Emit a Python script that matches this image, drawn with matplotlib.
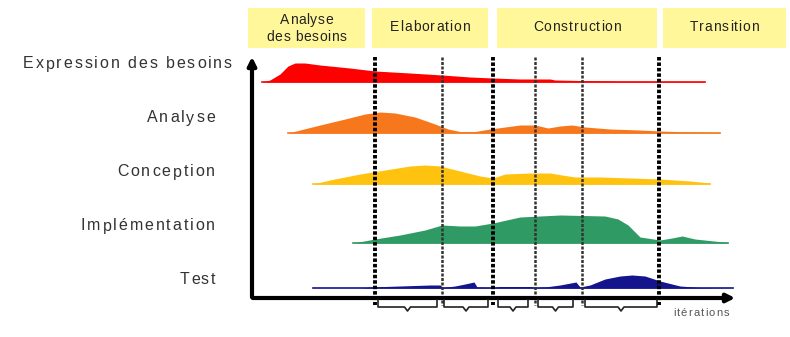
import numpy as np
import matplotlib.pyplot as plt

# phases (header boxes)
phases = ["Analyse\ndes besoins", "Elaboration", "Construction", "Transition"]
phase_start = [248, 372, 497, 663]
phase_end = [365, 488, 657, 786]

# iteration boundaries
bounds = [375, 442, 493, 535, 582, 659]
bound_bold = [True, False, True, False, False, True]

# disciplines
disciplines = ["Expression des besoins", "Analyse", "Conception", "Implémentation", "Test"]
label_y = [64, 118, 172, 226, 280]
label_x = [232, 215, 215, 215, 215]
baselines = [82, 133, 184, 243, 288]
colors = ["#FF0000", "#F7781C", "#FFC20E", "#2F9A64", "#14148C"]

x_red = [262, 270, 280, 288, 295, 305, 320, 350, 375, 410, 442, 470, 493, 520, 550, 555, 580, 610, 620, 705]
h_red = [0, 2, 8, 16, 19, 19, 17, 14, 11, 9, 7, 5, 4, 3, 3, 2, 1.5, 1, 0.7, 0.5]

x_orange = [288, 300, 320, 345, 365, 380, 395, 415, 435, 448, 460, 475, 490, 505, 520, 535, 548, 560, 572, 585, 610, 640, 660, 690, 720]
h_orange = [0, 3, 8, 14, 19, 21, 20, 16, 9, 4, 1.5, 1.5, 4, 6, 8, 8, 5, 7, 8, 6, 4, 3, 2, 1, 0.5]

x_yellow = [313, 330, 360, 385, 410, 425, 440, 460, 480, 493, 505, 530, 550, 562, 575, 600, 630, 660, 690, 710]
h_yellow = [0, 4, 10, 14, 18, 19, 18, 13, 8, 6, 10, 11, 11, 9, 7, 7, 6, 5, 3, 1]

x_green = [353, 375, 400, 425, 442, 460, 475, 493, 520, 560, 605, 618, 628, 640, 660, 672, 682, 695, 728]
h_green = [0, 4, 8, 13, 18, 17, 17, 20, 26, 28, 27, 24, 18, 6, 3, 5, 7, 4, 0.5]

x_blue = [313, 360, 370, 400, 430, 440, 443, 455, 465, 474, 477, 493, 500, 530, 535, 545, 560, 576, 580, 590, 605, 620, 632, 645, 660, 680, 700, 733]
h_blue = [0, 0, 1, 2, 3, 3, 0.5, 2, 4, 6, 1, 0.5, 1.5, 1.5, 0.5, 1, 3, 6, 1, 3, 9, 12, 13, 12, 7, 2, 0.5, 0]

profiles = [(x_red, h_red), (x_orange, h_orange), (x_yellow, h_yellow),
            (x_green, h_green), (x_blue, h_blue)]

# brackets under the axis (one per iteration)
brace_start = [378, 444, 498, 538, 585]
brace_end = [437, 488, 528, 573, 657]

FONT = "Liberation Sans"

fig = plt.figure(figsize=(7.9, 3.37), dpi=100)
ax = fig.add_axes([0, 0, 1, 1])
ax.set_xlim(0, 790)
ax.set_ylim(337, 0)
ax.axis("off")
renderer = fig.canvas.get_renderer()


def text_w(s, size):
    t = ax.text(0, 0, s, fontsize=size, family=FONT)
    w = t.get_window_extent(renderer).width
    t.remove()
    return w


def spaced_text(x, y, s, size, spacing, align="center", color="#333333"):
    # letter spaced text, advances measured from prefixes
    ref = text_w("x", size)
    offs = [0.0] + [text_w(s[:i] + "x", size) - ref for i in range(1, len(s) + 1)]
    total = offs[-1] + spacing * (len(s) - 1)
    x0 = x - total if align == "right" else x - total / 2
    for i, ch in enumerate(s):
        if ch == " ":
            continue
        ax.text(x0 + offs[i] + spacing * i, y, ch, ha="left", va="center",
                fontsize=size, family=FONT, color=color)


# header
for name, a, b in zip(phases, phase_start, phase_end):
    ax.fill_between([a, b], 8, 48, color="#FFF799", lw=0)
    lines = name.split("\n")
    if len(lines) == 1:
        spaced_text((a + b) / 2, 27, lines[0], 10, 0.9, color="#222222")
    else:
        spaced_text((a + b) / 2, 20, lines[0], 10, 0.6, color="#222222")
        spaced_text((a + b) / 2, 37, lines[1], 10, 0.6, color="#222222")

# profiles
for (xs, hs), base, c in zip(profiles, baselines, colors):
    xs = np.array(xs)
    hs = np.array(hs)
    ax.fill_between(xs, base, base - hs, color=c, lw=0, zorder=2)
    ax.plot(xs, [base] * len(xs), color=c, lw=1.2, zorder=2)

# labels
for name, lx, ly in zip(disciplines, label_x, label_y):
    spaced_text(lx, ly, name, 11.5, 1.9, align="right")

# iteration boundaries
for bx, bold in zip(bounds, bound_bold):
    if bold:
        ax.plot([bx, bx], [57, 305], color="black", lw=2.8,
                linestyle=(0, (0.9, 0.5)), zorder=3)
    else:
        ax.plot([bx, bx], [57, 305], color="#333333", lw=1.8,
                linestyle=(0, (1.2, 0.6)), zorder=3)

# axes arrows
ax.annotate("", xy=(252, 54), xytext=(252, 300),
            arrowprops=dict(arrowstyle="-|>", color="black", lw=3, mutation_scale=12))
ax.annotate("", xy=(738, 298), xytext=(250, 298),
            arrowprops=dict(arrowstyle="-|>", color="black", lw=3, mutation_scale=12))

# braces
for a, b in zip(brace_start, brace_end):
    m = (a + b) / 2
    ax.plot([a, a, m - 3, m, m + 3, b, b], [300, 307, 307, 311, 307, 307, 300],
            color="#222222", lw=1.2, zorder=3)

spaced_text(701, 313, "itérations", 8, 1.2, color="#555555")

fig.savefig("out.png", dpi=100)
